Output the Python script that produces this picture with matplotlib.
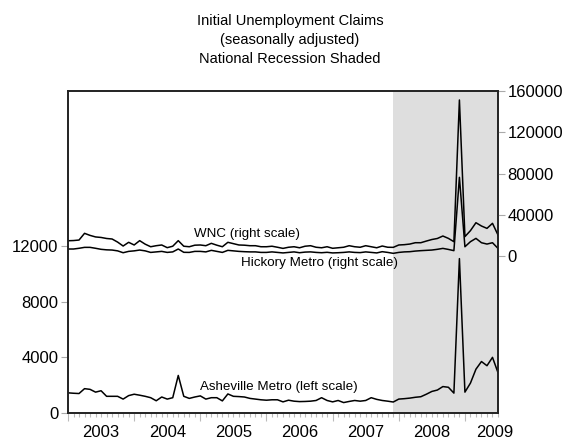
import numpy as np
import matplotlib.pyplot as plt
import matplotlib.transforms as mtransforms

plt.rcParams['font.family'] = ['Liberation Sans', 'DejaVu Sans']

# monthly data, Jan 2003 - Jul 2009
asheville = [1450, 1420, 1400, 1750, 1700, 1500, 1600, 1200, 1200, 1200, 1000, 1250,
             1350, 1280, 1200, 1100, 880, 1150, 1000, 1100, 2700, 1200, 1050, 1150,
             1230, 1000, 1100, 1100, 870, 1370, 1200, 1180, 1150, 1050, 1000, 950,
             920, 950, 950, 800, 920, 850, 820, 830, 850, 900, 1100, 900,
             800, 900, 750, 830, 900, 850, 900, 1100, 980, 900, 850, 790,
             1000, 1030, 1070, 1130, 1170, 1350, 1550, 1650, 1900, 1850, 1430, 11100,
             1500, 2150, 3150, 3700, 3400, 4000, 2900]
wnc = [14800, 15000, 15500, 22000, 20000, 18500, 18000, 17000, 16500, 13500, 9700, 13300,
       10700, 14900, 11500, 9000, 10000, 10700, 8100, 9500, 14900, 9500, 9000, 10500,
       10700, 10000, 12300, 10500, 9000, 13300, 12000, 10700, 10500, 10000, 10000, 9000,
       9000, 9500, 8500, 7400, 8500, 9000, 8000, 9500, 10000, 8500, 8000, 9000,
       7500, 8000, 8500, 10000, 9000, 8500, 10000, 9000, 8000, 9700, 8500, 8400,
       10700, 11000, 11600, 12900, 12900, 14500, 16000, 17000, 19400, 17100, 13900, 151300,
       18800, 24600, 32300, 29100, 26800, 31700, 20400]
hickory = [6800, 6800, 7500, 8400, 8400, 7500, 6500, 6000, 5800, 5000, 3200, 4500,
           5000, 5800, 5000, 3500, 4000, 4500, 3500, 4000, 6800, 3600, 3500, 4500,
           4500, 4000, 5500, 4500, 3500, 5500, 5000, 4500, 4200, 4000, 4000, 3500,
           3500, 4000, 3500, 3000, 3500, 4000, 3200, 3800, 4000, 3500, 3200, 3600,
           3000, 3200, 3500, 4000, 3500, 3300, 4000, 3500, 3000, 4200, 3500, 2600,
           3500, 4000, 4200, 4800, 5200, 5500, 5800, 6500, 7400, 6400, 5200, 76300,
           9000, 13900, 17100, 12900, 11600, 12900, 7400]
years = ['2003', '2004', '2005', '2006', '2007', '2008', '2009']
recession_start = 59  # Dec 2007

months = np.arange(len(asheville))

fig = plt.figure(figsize=(5.8, 4.43), dpi=100)
ax = fig.add_axes([68/580, 30/443, 430/580, 322/443])
ax2 = ax.twinx()

ax.axvspan(recession_start, months[-1], color='#dedede', lw=0, zorder=0)
ax.plot(months, asheville, color='black', lw=1.1)
ax2.plot(months, wnc, color='black', lw=1.1)
ax2.plot(months, hickory, color='black', lw=1.1)

ax.set_xlim(0, months[-1])
ax.set_ylim(0, 23150)
ax2.set_ylim(-152200, 160000)

ax.set_yticks([0, 4000, 8000, 12000])
ax2.set_yticks([0, 40000, 80000, 120000, 160000])

ax.set_xticks(np.arange(0, len(months), 12))
ax.set_xticks(months, minor=True)
ax.set_xticklabels([])
trans = mtransforms.blended_transform_factory(ax.transData, ax.transAxes)
for k, yr in enumerate(years):
    pos = min(12 * k + 6, months[-1] - 0.5)
    ax.text(pos, -0.062, yr, transform=trans, ha='center', va='center', fontsize=12)

for a in (ax, ax2):
    for s in a.spines.values():
        s.set_linewidth(1.2)
        s.set_color('#222222')
ax.tick_params(axis='y', direction='out', length=5, width=0.8, color='#aaaaaa',
               labelsize=12, pad=2)
ax2.tick_params(axis='y', direction='out', length=5, width=0.8, color='#aaaaaa',
                labelsize=12, pad=2)
ax.tick_params(axis='x', which='major', direction='out', length=6, width=0.8, color='#bbbbbb')
ax.tick_params(axis='x', which='minor', direction='out', length=3, width=0.8, color='#bbbbbb')

ax.text(32.4, 12900, 'WNC (right scale)', ha='center', va='center', fontsize=9.6)
ax.text(45.6, 10800, 'Hickory Metro (right scale)', ha='center', va='center', fontsize=9.6)
ax.text(38.2, 1900, 'Asheville Metro (left scale)', ha='center', va='center', fontsize=9.6)

fig.text(0.5, 1 - 40/443, 'Initial Unemployment Claims\n(seasonally adjusted)\nNational Recession Shaded',
         ha='center', va='center', fontsize=10.5, linespacing=1.45)

fig.savefig('out.png', dpi=100)
